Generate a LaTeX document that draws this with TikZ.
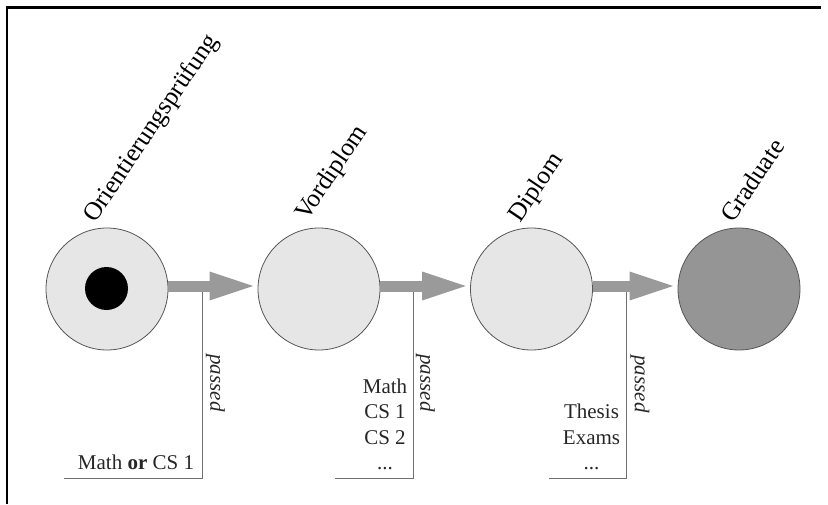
\documentclass[tikz,border=0pt]{standalone}
\usepackage{fontspec}
\setmainfont{Liberation Serif}
\usetikzlibrary{arrows.meta}
\definecolor{lightfill}{HTML}{E6E6E6}
\definecolor{darkfill}{HTML}{959595}
\definecolor{edgegray}{HTML}{555555}
\definecolor{flowgray}{HTML}{9A9A9A}
\definecolor{linegray}{HTML}{707070}
\tikzset{
  state/.style={circle, draw=edgegray, line width=0.8pt, minimum size=122pt, inner sep=0pt, fill=lightfill},
  finalstate/.style={state, fill=darkfill},
  blackdot/.style={circle, fill=black, minimum size=43pt, inner sep=0pt},
  flow/.style={draw=flowgray, line width=11pt, -{Triangle[length=48pt,width=25pt]}},
  passline/.style={draw=linegray, line width=0.9pt},
  statelabel/.style={rotate=56, anchor=base west, inner sep=0pt, font=\fontsize{25.5}{30}\selectfont},
  req/.style={font=\fontsize{21}{25.5}\selectfont, align=center, anchor=south, inner sep=0pt, text=black!85},
  passlabel/.style={rotate=-90, inner sep=0pt, font=\fontsize{21}{25}\selectfont\itshape, text=black!85},
  frameline/.style={draw=black, line width=2.2pt}
}
\begin{document}
\begin{tikzpicture}[x=1pt,y=-1pt]
\useasboundingbox (0,0) rectangle (828,504);
% frame
\coordinate (fa) at (7,504);
\coordinate (fb) at (7,7.5);
\coordinate (fc) at (821,7.5);
\draw[frameline] (fa) -- (fb) -- (fc);
% states
\node[state] (s1) at (107,289) {};
\node[blackdot] (d1) at (106.5,288.5) {};
\node[state] (s2) at (319,289) {};
\node[state] (s3) at (531.5,289) {};
\node[finalstate] (s4) at (739,289) {};
% labels
\node[statelabel] (l1) at (95,224) {Orientierungsprüfung};
\node[statelabel] (l2) at (307,222) {Vordiplom};
\node[statelabel] (l3) at (520,224) {Diplom};
\node[statelabel] (l4) at (733,224) {Graduate};
% requirement lines
\coordinate (t1) at (202,286);
\coordinate (b1) at (202,478);
\coordinate (e1) at (64,478);
\coordinate (t2) at (413,286);
\coordinate (b2) at (413,478);
\coordinate (e2) at (335,478);
\coordinate (t3) at (626,286);
\coordinate (b3) at (626,478);
\coordinate (e3) at (549,478);
\draw[passline] (t1) -- (b1) -- (e1);
\draw[passline] (t2) -- (b2) -- (e2);
\draw[passline] (t3) -- (b3) -- (e3);
% flows
\draw[flow] ([yshift=3pt]s1.east) -- ([yshift=3pt]s2.west);
\draw[flow] ([yshift=3pt]s2.east) -- ([yshift=3pt]s3.west);
\draw[flow] ([yshift=3pt]s3.east) -- ([yshift=3pt]s4.west);
% texts
\node[req] (r1) at (136,470) {Math \textbf{or} CS 1};
\node[req] (r2) at (385,470) {Math\\CS 1\\CS 2\\...};
\node[req] (r3) at (591.5,470) {Thesis\\Exams\\...};
\node[passlabel] (p1) at (215.5,383) {passed};
\node[passlabel] (p2) at (425.5,383) {passed};
\node[passlabel] (p3) at (640,384) {passed};
\end{tikzpicture}
\end{document}
